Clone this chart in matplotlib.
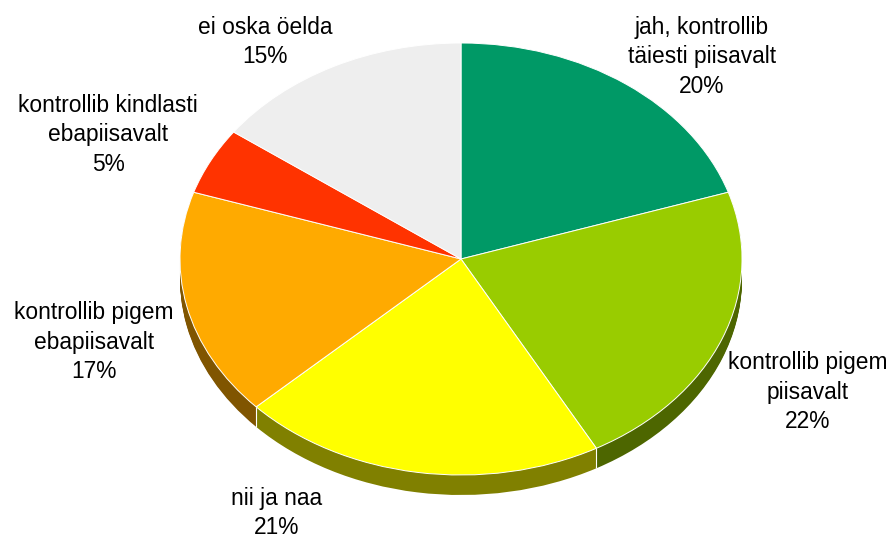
import numpy as np
import matplotlib
matplotlib.use("Agg")
import matplotlib.pyplot as plt

W, H = 891, 538
categories = ["jah, kontrollib\ntäiesti piisavalt", "kontrollib pigem\npiisavalt", "nii ja naa",
              "kontrollib pigem\nebapiisavalt", "kontrollib kindlasti\nebapiisavalt", "ei oska öelda"]
values = [20, 22, 21, 17, 5, 15]
top_colors = ["#009966", "#99CC00", "#FFFF00", "#FFAA00", "#FF3300", "#EEEEEE"]
side_colors = ["#004D33", "#4D6600", "#808000", "#805500", "#801A00", "#777777"]
label_px = [(702, 57), (808, 392), (277, 513), (94, 342), (108, 135), (265, 42)]

CX, CY, RX, RY, DEPTH = 461, 259, 281, 216, 20

fig = plt.figure(figsize=(W / 100, H / 100), dpi=100, facecolor="white")
ax = fig.add_axes([(CX - RX) / W, 1 - (CY + RY) / H, 2 * RX / W, 2 * RY / H])

pie_kw = dict(startangle=90, counterclock=False, radius=1)
dy = 1 / RY
for d in range(DEPTH, 0, -1):
    ax.pie(values, colors=side_colors, center=(0, -d * dy),
           wedgeprops=dict(linewidth=0), **pie_kw)

# white seams on the visible rim
fractions = np.cumsum(values) / np.sum(values)
for f in fractions:
    ang = 2 * np.pi * f
    x, y = np.sin(ang), np.cos(ang)
    if y < 0:
        ax.plot([x, x], [y, y - DEPTH * dy], color="white", lw=0.8, zorder=5, solid_capstyle="butt")

ax.pie(values, colors=top_colors, center=(0, 0),
       wedgeprops=dict(linewidth=0.7, edgecolor="white"), **pie_kw)

ax.set_xlim(-1, 1)
ax.set_ylim(-1, 1)
ax.set_aspect("auto")
ax.set_axis_off()
for c in ax.patches + ax.lines:
    c.set_clip_on(False)

for name, v, (px, py) in zip(categories, values, label_px):
    fig.text(px / W, 1 - py / H, f"{name}\n{v}%", ha="center", va="center",
             fontsize=16.4, family="Liberation Sans", color="black", linespacing=1.36)

fig.savefig("out.png", dpi=100, facecolor="white")
